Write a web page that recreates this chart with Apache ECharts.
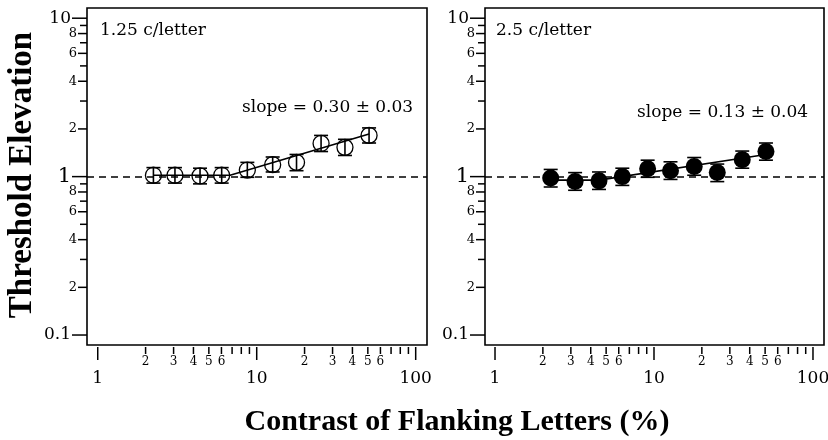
<!DOCTYPE html>
<html>
<head>
<meta charset="utf-8">
<script src="https://cdn.jsdelivr.net/npm/echarts@6/dist/echarts.min.js"></script>
<style>
  html, body { margin: 0; padding: 0; background: #fff; }
  #chart { width: 828px; height: 440px; }
</style>
</head>
<body>
<div id="chart"></div>
<script>
// Flanking-letter contrast (%) for each condition
const contrastLow = [2.24, 3.06, 4.40, 6.02, 8.73, 12.6, 17.8, 25.4, 35.9, 50.9];
const contrastHigh = [2.24, 3.19, 4.51, 6.32, 9.12, 12.7, 17.9, 25.0, 35.9, 50.6];

// Threshold elevation, with error-bar limits, 1.25 c/letter
const elevLow = [1.02, 1.02, 1.01, 1.02, 1.10, 1.19, 1.23, 1.62, 1.53, 1.82];
const elevLowMin = [0.91, 0.91, 0.90, 0.91, 0.99, 1.07, 1.09, 1.44, 1.36, 1.63];
const elevLowMax = [1.14, 1.14, 1.13, 1.14, 1.23, 1.33, 1.38, 1.82, 1.72, 2.03];

// Threshold elevation, with error-bar limits, 2.5 c/letter
const elevHigh = [0.98, 0.93, 0.94, 1.00, 1.12, 1.09, 1.16, 1.06, 1.28, 1.44];
const elevHighMin = [0.86, 0.82, 0.83, 0.88, 0.99, 0.96, 1.02, 0.93, 1.13, 1.27];
const elevHighMax = [1.11, 1.06, 1.07, 1.13, 1.27, 1.24, 1.32, 1.20, 1.45, 1.63];

// Fitted lines: flat segment followed by the power-law rise
const fitLowX = [2.24, 6.8, 50.9];
const fitLowY = [1.02, 1.02, 1.86];
const fitHighX = [2.24, 4.5, 50.6];
const fitHighY = [0.95, 0.95, 1.38];

// Panel captions
const panelNames = ['1.25 c/letter', '2.5 c/letter'];
const slopeTexts = ['slope = 0.30 \u00b1 0.03', 'slope = 0.13 \u00b1 0.04'];

// Log-axis ticks and their labels
const xTickValues = [1, 2, 3, 4, 5, 6, 7, 8, 9, 10, 20, 30, 40, 50, 60, 70, 80, 90, 100];
const xTickLabels = ['1', '2', '3', '4', '5', '6', '', '', '', '10', '2', '3', '4', '5', '6', '', '', '', '100'];
const yTickValues = [0.1, 0.2, 0.3, 0.4, 0.5, 0.6, 0.7, 0.8, 0.9, 1, 2, 3, 4, 5, 6, 7, 8, 9, 10];
const yTickLabels = ['0.1', '2', '', '4', '', '6', '', '8', '', '1', '2', '', '4', '', '6', '', '8', '', '10'];

const SERIF = '"DejaVu Serif", serif';
const TITLE_FONT = '"Liberation Serif", "Times New Roman", serif';

function isDecade(v) {
  const l = Math.log10(v);
  return Math.abs(l - Math.round(l)) < 1e-9;
}

function zip(a, b) { return a.map((v, i) => [v, b[i]]); }

const chart = echarts.init(document.getElementById('chart'), null, { renderer: 'canvas' });

const grids = [
  { left: 87, top: 8, width: 340, height: 337, show: true, borderColor: '#000', borderWidth: 1.6, backgroundColor: 'transparent' },
  { left: 485, top: 8, width: 339, height: 337, show: true, borderColor: '#000', borderWidth: 1.6, backgroundColor: 'transparent' }
];

const hiddenAxis = {
  axisLine: { show: false }, axisTick: { show: false },
  axisLabel: { show: false }, splitLine: { show: false }
};

const xAxes = [
  Object.assign({ type: 'log', logBase: 10, gridIndex: 0, min: 0.856, max: 117.8 }, hiddenAxis),
  Object.assign({ type: 'log', logBase: 10, gridIndex: 1, min: 0.865, max: 117.3 }, hiddenAxis)
];
const yAxes = [
  Object.assign({ type: 'log', logBase: 10, gridIndex: 0, min: 0.0865, max: 11.6 }, hiddenAxis),
  Object.assign({ type: 'log', logBase: 10, gridIndex: 1, min: 0.0865, max: 11.6 }, hiddenAxis)
];

function xTickSeries(idx) {
  return {
    type: 'custom', xAxisIndex: idx, yAxisIndex: idx, silent: true, z: 5,
    data: xTickValues.map(v => [v, 1]),
    renderItem: function (params, api) {
      const v = api.value(0);
      const label = xTickLabels[params.dataIndex];
      const cs = params.coordSys;
      const x = api.coord([v, 1])[0];
      const yb = cs.y + cs.height;
      const major = isDecade(v);
      const children = [{
        type: 'line',
        shape: { x1: x, y1: yb + 2, x2: x, y2: yb + (major ? 15 : 9) },
        style: { stroke: '#000', lineWidth: 1.5 }
      }];
      if (label) {
        children.push({
          type: 'text',
          style: {
            text: label, x: x, y: major ? yb + 34 : yb + 17,
            align: 'center', verticalAlign: 'middle',
            fontSize: major ? 17 : 12, fontFamily: SERIF, fill: '#000'
          }
        });
      }
      return { type: 'group', children: children };
    }
  };
}

function yTickSeries(idx) {
  return {
    type: 'custom', xAxisIndex: idx, yAxisIndex: idx, silent: true, z: 5,
    data: yTickValues.map(v => [1, v]),
    renderItem: function (params, api) {
      const v = api.value(1);
      const label = yTickLabels[params.dataIndex];
      const cs = params.coordSys;
      const y = api.coord([1, v])[1];
      const xl = cs.x;
      const major = isDecade(v);
      const len = major ? 15 : (label ? 9 : 7);
      const children = [{
        type: 'line',
        shape: { x1: xl - len, y1: y, x2: xl, y2: y },
        style: { stroke: '#000', lineWidth: 1.5 }
      }];
      if (label) {
        children.push({
          type: 'text',
          style: {
            text: label, x: major ? xl - 16 : xl - 10, y: y,
            align: 'right', verticalAlign: 'middle',
            fontSize: v === 1 ? 21 : (major ? 17 : 13), fontFamily: SERIF, fill: '#000'
          }
        });
      }
      return { type: 'group', children: children };
    }
  };
}

function errorBarSeries(idx, xs, lo, hi) {
  return {
    type: 'custom', xAxisIndex: idx, yAxisIndex: idx, silent: true, z: 3,
    data: xs.map((x, i) => [x, lo[i], hi[i]]),
    encode: { x: 0, y: [1, 2] },
    renderItem: function (params, api) {
      const x = api.value(0);
      const p1 = api.coord([x, api.value(1)]);
      const p2 = api.coord([x, api.value(2)]);
      const hw = 7;
      const st = { stroke: '#000', lineWidth: 1.6 };
      return {
        type: 'group',
        children: [
          { type: 'line', shape: { x1: p1[0], y1: p1[1], x2: p2[0], y2: p2[1] }, style: st },
          { type: 'line', shape: { x1: p1[0] - hw, y1: p1[1], x2: p1[0] + hw, y2: p1[1] }, style: st },
          { type: 'line', shape: { x1: p2[0] - hw, y1: p2[1], x2: p2[0] + hw, y2: p2[1] }, style: st }
        ]
      };
    }
  };
}

function fitSeries(idx, xs, ys) {
  return {
    type: 'line', xAxisIndex: idx, yAxisIndex: idx, silent: true, z: 2,
    data: zip(xs, ys), symbol: 'none',
    lineStyle: { color: '#000', width: 1.6 },
    markLine: {
      silent: true, symbol: ['none', 'none'], label: { show: false },
      lineStyle: { color: '#000', width: 1.5, type: [7, 5] },
      data: [{ yAxis: 1 }]
    }
  };
}

const series = [
  fitSeries(0, fitLowX, fitLowY),
  errorBarSeries(0, contrastLow, elevLowMin, elevLowMax),
  {
    type: 'scatter', xAxisIndex: 0, yAxisIndex: 0, silent: true, z: 4,
    data: zip(contrastLow, elevLow), symbol: 'circle', symbolSize: 16,
    itemStyle: { color: 'rgba(0,0,0,0)', borderColor: '#000', borderWidth: 1.3, opacity: 1 }
  },
  fitSeries(1, fitHighX, fitHighY),
  errorBarSeries(1, contrastHigh, elevHighMin, elevHighMax),
  {
    type: 'scatter', xAxisIndex: 1, yAxisIndex: 1, silent: true, z: 4,
    data: zip(contrastHigh, elevHigh), symbol: 'circle', symbolSize: 17,
    itemStyle: { color: '#000', opacity: 1 }
  },
  xTickSeries(0), xTickSeries(1), yTickSeries(0), yTickSeries(1)
];

const textStyle = (size) => ({ fontSize: size, fontFamily: SERIF, fill: '#000', verticalAlign: 'middle' });

const graphic = [
  { type: 'text', x: 100, y: 31, style: Object.assign({ text: panelNames[0] }, textStyle(17)) },
  { type: 'text', x: 242, y: 108, style: Object.assign({ text: slopeTexts[0] }, textStyle(17)) },
  { type: 'text', x: 496, y: 31, style: Object.assign({ text: panelNames[1] }, textStyle(17)) },
  { type: 'text', x: 637, y: 113, style: Object.assign({ text: slopeTexts[1] }, textStyle(17)) },
  {
    type: 'text', x: 457, y: 422,
    style: { text: 'Contrast of Flanking Letters (%)', fontSize: 30, fontWeight: 'bold', fontFamily: TITLE_FONT, fill: '#000', align: 'center', verticalAlign: 'middle' }
  },
  {
    type: 'text', x: 22, y: 175, rotation: Math.PI / 2,
    style: { text: 'Threshold Elevation', fontSize: 33, fontWeight: 'bold', fontFamily: TITLE_FONT, fill: '#000', align: 'center', verticalAlign: 'middle' }
  }
];

chart.setOption({
  animation: false,
  backgroundColor: '#fff',
  grid: grids,
  xAxis: xAxes,
  yAxis: yAxes,
  series: series,
  graphic: graphic
});
</script>
</body>
</html>
